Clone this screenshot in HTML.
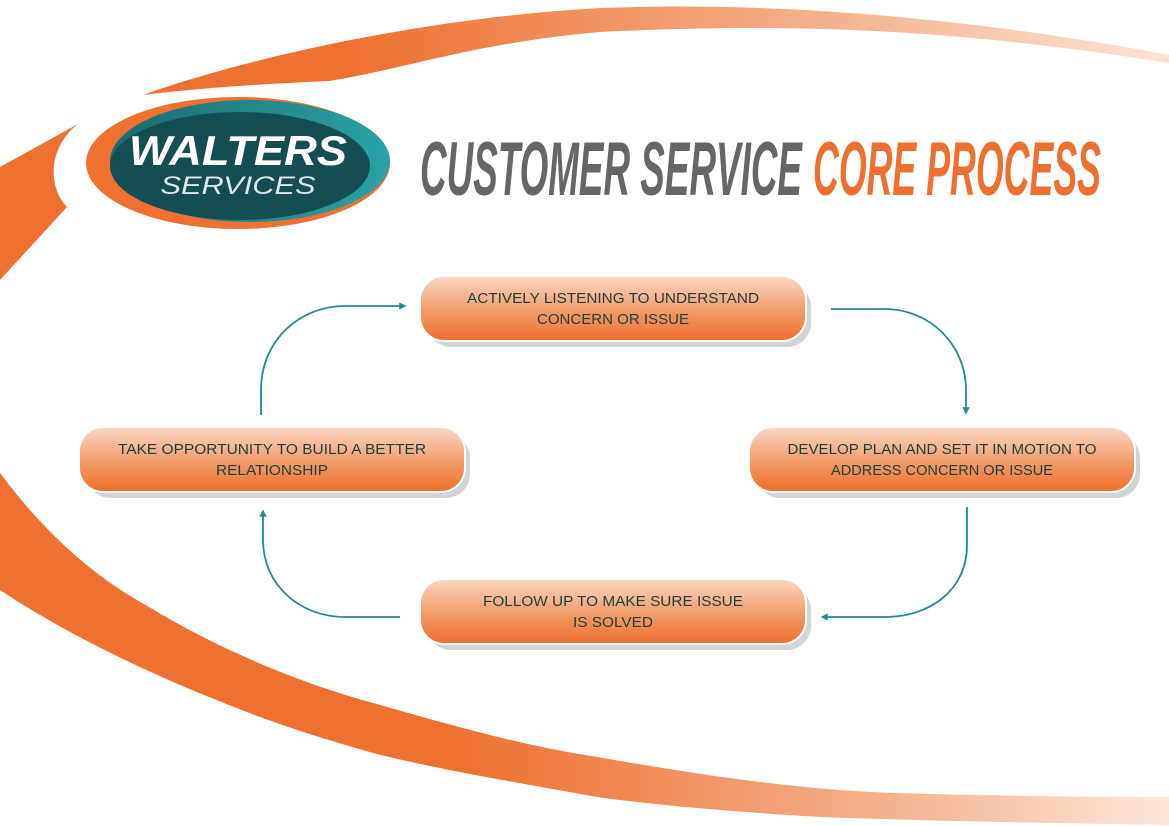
<!DOCTYPE html>
<html><head><meta charset="utf-8"><style>
html,body{margin:0;padding:0;background:#fff;}
svg{display:block}
</style></head><body>
<svg width="1169" height="826" viewBox="0 0 1169 826" xmlns="http://www.w3.org/2000/svg">
<defs>
<linearGradient id="band" x1="0" y1="0" x2="1169" y2="0" gradientUnits="userSpaceOnUse">
<stop offset="0.3" stop-color="#ee7132"/><stop offset="0.7" stop-color="#f4b08a"/><stop offset="1" stop-color="#fbe3d5"/>
</linearGradient>
<linearGradient id="band2" x1="0" y1="0" x2="1169" y2="0" gradientUnits="userSpaceOnUse">
<stop offset="0.4" stop-color="#ee7132"/><stop offset="0.75" stop-color="#f4b08a"/><stop offset="1" stop-color="#fbe6da"/>
</linearGradient>
<linearGradient id="box" x1="0" y1="0" x2="0" y2="1">
<stop offset="0" stop-color="#f9d6c2"/><stop offset="0.55" stop-color="#f29a66"/><stop offset="1" stop-color="#ee7130"/>
</linearGradient>
<linearGradient id="ring" x1="0" y1="0" x2="1" y2="0">
<stop offset="0" stop-color="#1c6a6e"/><stop offset="1" stop-color="#2aa3a6"/>
</linearGradient>
<marker id="ah" viewBox="0 0 10 10" refX="8" refY="5" markerWidth="4" markerHeight="4" orient="auto">
<path d="M0,0 L10,5 L0,10 z" fill="#238a90"/>
</marker>
</defs>

<!-- top swoosh -->
<path d="M143,95 C240,60 420,18 600,8 C760,2 950,14 1169,55 L1169,63 C960,30 800,22 600,32 C480,42 400,70 329,81 C260,84 200,88 143,95 Z" fill="url(#band)"/>
<!-- top-left fragment -->
<path d="M78,124 L0,167 L0,280 L67,207 C50,190 45,150 78,124 Z" fill="#ee7132"/>
<!-- bottom crescent -->
<path d="M0,473 C50,540 100,580 149,607 C220,650 300,683 373,703 C450,725 520,745 597,757 C700,775 800,790 895,793 C1000,796 1100,797 1169,797 L1169,825 C1050,823 930,821 820,817 C740,812 670,807 597,797 C520,783 440,770 373,753 C320,738 270,722 224,703 C140,670 60,630 0,590 Z" fill="url(#band2)"/>

<!-- logo -->
<ellipse cx="238" cy="163" rx="152" ry="66" fill="#ee7132"/>
<ellipse cx="250" cy="161" rx="140" ry="61" fill="url(#ring)"/>
<ellipse cx="240" cy="166" rx="130" ry="54" fill="#124e52"/>
<text x="238" y="165" text-anchor="middle" font-family="Liberation Sans, sans-serif" font-weight="bold" font-style="italic" font-size="42" fill="#fff" textLength="218" lengthAdjust="spacingAndGlyphs">WALTERS</text>
<text x="238" y="194" text-anchor="middle" font-family="Liberation Sans, sans-serif" font-style="italic" font-size="25" fill="#dfe6e6" textLength="155" lengthAdjust="spacingAndGlyphs">SERVICES</text>

<!-- title -->
<text x="420" y="195" font-family="'Liberation Sans Narrow','Liberation Sans',sans-serif" font-weight="bold" font-style="italic" font-size="76" fill="#666" textLength="382" lengthAdjust="spacingAndGlyphs">CUSTOMER SERVICE</text>
<text x="813" y="195" font-family="'Liberation Sans Narrow','Liberation Sans',sans-serif" font-weight="bold" font-style="italic" font-size="76" fill="#ee7030" textLength="288" lengthAdjust="spacingAndGlyphs">CORE PROCESS</text>

<!-- boxes -->
<g font-family="Liberation Sans, sans-serif" font-size="14.5" fill="#1f3f3f" text-anchor="middle" lengthAdjust="spacingAndGlyphs">
<g>
<rect x="427" y="283" width="384" height="64" rx="24" fill="#d3d3d3"/>
<rect x="419" y="275" width="388" height="67" rx="25" fill="#fff"/>
<rect x="421" y="277" width="384" height="63" rx="23" fill="url(#box)"/>
<text x="613" y="303" textLength="292" lengthAdjust="spacingAndGlyphs">ACTIVELY LISTENING TO UNDERSTAND</text>
<text x="613" y="324" textLength="152" lengthAdjust="spacingAndGlyphs">CONCERN OR ISSUE</text>
</g>
<g>
<rect x="86" y="434" width="384" height="64" rx="24" fill="#d3d3d3"/>
<rect x="78" y="426" width="388" height="67" rx="25" fill="#fff"/>
<rect x="80" y="428" width="384" height="63" rx="23" fill="url(#box)"/>
<text x="272" y="454" textLength="308" lengthAdjust="spacingAndGlyphs">TAKE OPPORTUNITY TO BUILD A BETTER</text>
<text x="272" y="475" textLength="112" lengthAdjust="spacingAndGlyphs">RELATIONSHIP</text>
</g>
<g>
<rect x="756" y="434" width="384" height="64" rx="24" fill="#d3d3d3"/>
<rect x="748" y="426" width="388" height="67" rx="25" fill="#fff"/>
<rect x="750" y="428" width="384" height="63" rx="23" fill="url(#box)"/>
<text x="942" y="454" textLength="309" lengthAdjust="spacingAndGlyphs">DEVELOP PLAN AND SET IT IN MOTION TO</text>
<text x="942" y="475" textLength="222" lengthAdjust="spacingAndGlyphs">ADDRESS CONCERN OR ISSUE</text>
</g>
<g>
<rect x="427" y="586" width="384" height="64" rx="24" fill="#d3d3d3"/>
<rect x="419" y="578" width="388" height="67" rx="25" fill="#fff"/>
<rect x="421" y="580" width="384" height="63" rx="23" fill="url(#box)"/>
<text x="613" y="606" textLength="260" lengthAdjust="spacingAndGlyphs">FOLLOW UP TO MAKE SURE ISSUE</text>
<text x="613" y="627" textLength="80" lengthAdjust="spacingAndGlyphs">IS SOLVED</text>
</g>
</g>

<!-- connectors -->
<g fill="none" stroke="#238a90" stroke-width="1.8">
<path d="M261,415 L261,390 C261,340 300,306 345,306 L405,306" marker-end="url(#ah)"/>
<path d="M831,309 L885,309 C930,309 966,345 966,390 L966,413" marker-end="url(#ah)"/>
<path d="M967,507 L967,545 C967,590 930,617 885,617 L822,617" marker-end="url(#ah)"/>
<path d="M400,617 L345,617 C300,617 263,585 263,540 L263,511" marker-end="url(#ah)"/>
</g>
</svg>
</body></html>
